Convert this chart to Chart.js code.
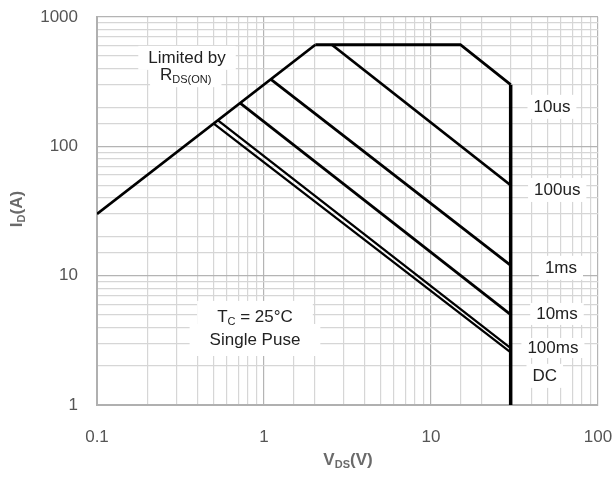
<!DOCTYPE html>
<html>
<head>
<meta charset="utf-8">
<script src="https://cdn.jsdelivr.net/npm/chart.js@4.4.0/dist/chart.umd.min.js"></script>
<style>
  html, body { margin: 0; padding: 0; background: #fff; }
  #wrap { width: 614px; height: 483px; }
</style>
</head>
<body>
<div id="wrap"><canvas id="soa"></canvas></div>
<script>
// safe operating area, V_DS (V) vs I_D (A)
var xTicks = [0.1, 1, 10, 100];
var yTicks = [1, 10, 100, 1000];

var rdsV = [0.1, 2.03];         var rdsI = [30, 610];
var us10V = [2.03, 15, 30];     var us10I = [610, 610, 300];
var dcLimV = [30, 30];          var dcLimI = [300, 1];
var us100V = [2.55, 30];        var us100I = [610, 50];
var ms1V = [1.1, 30];           var ms1I = [330, 12];
var ms10V = [0.72, 30];         var ms10I = [216, 5];
var ms100V = [0.53, 30];        var ms100I = [159, 2.75];
var dcV = [0.5, 30];            var dcI = [150, 2.55];

var curveNames = ['10us', '100us', '1ms', '10ms', '100ms', 'DC'];

function pts(xs, ys) {
	var out = [];
	for (var i in xs) out.push({x: xs[i], y: ys[i]});
	return out;
}

function line(label, xs, ys, w) {
	return {
		label: label,
		data: pts(xs, ys),
		showLine: true,
		borderColor: '#000',
		borderWidth: w || 2.8,
		pointRadius: 0,
		fill: false
	};
}

// text notes, placed at data coordinates
var notes = [
	{v: 53, i: 202, parts: [[curveNames[0]]], pad: [6, 4]},
	{v: 57, i: 46, parts: [[curveNames[1]]], pad: [6, 4]},
	{v: 60, i: 11.5, parts: [[curveNames[2]]], pad: [6, 4]},
	{v: 56.8, i: 5.06, parts: [[curveNames[3]]], pad: [6, 3]},
	{v: 53.7, i: 2.76, parts: [[curveNames[4]]], pad: [6, 2]},
	{v: 48, i: 1.68, parts: [[curveNames[5]]], pad: [6, 4]},
	{v: 0.346, i: 483, parts: [['Limited by']], pad: [10, 4]},
	{v: 0.34, i: 355, parts: [['R'], ['DS(ON)', true]], pad: [10, 4]},
	{v: 0.883, i: 4.8, parts: [['T'], ['C', true], [' = 25°C']], pad: [20, 8]},
	{v: 0.883, i: 3.18, parts: [['Single Puse']], pad: [20, 8]}
];

var FONT = '17px "Liberation Sans", Arial, sans-serif';
var SUB = '11px "Liberation Sans", Arial, sans-serif';

function partsWidth(ctx, parts) {
	var w = 0;
	parts.forEach(function(p) {
		ctx.font = p[1] ? SUB : FONT;
		w += ctx.measureText(p[0]).width;
	});
	return w;
}

function drawParts(ctx, parts, cx, cy, font, sub, color) {
	ctx.save();
	ctx.fillStyle = color;
	ctx.textBaseline = 'middle';
	ctx.textAlign = 'left';
	var w = 0;
	parts.forEach(function(p) { ctx.font = p[1] ? sub : font; w += ctx.measureText(p[0]).width; });
	var x = cx - w / 2;
	parts.forEach(function(p) {
		ctx.font = p[1] ? sub : font;
		ctx.fillText(p[0], x, p[1] ? cy + 5 : cy);
		x += ctx.measureText(p[0]).width;
	});
	ctx.restore();
}

var notesPlugin = {
	id: 'notes',
	beforeDatasetsDraw: function(chart) {
		var ctx = chart.ctx, xs = chart.scales.x, ys = chart.scales.y;
		ctx.save();
		ctx.fillStyle = '#fff';
		notes.forEach(function(n) {
			var cx = xs.getPixelForValue(n.v), cy = ys.getPixelForValue(n.i);
			var w = partsWidth(ctx, n.parts);
			ctx.fillRect(cx - w / 2 - n.pad[0], cy - 8 - n.pad[1], w + 2 * n.pad[0], 16 + 2 * n.pad[1]);
		});
		ctx.restore();
	},
	afterDatasetsDraw: function(chart) {
		var ctx = chart.ctx, xs = chart.scales.x, ys = chart.scales.y;
		notes.forEach(function(n) {
			drawParts(ctx, n.parts, xs.getPixelForValue(n.v), ys.getPixelForValue(n.i), FONT, SUB, '#222');
		});
	},
	afterDraw: function(chart) {
		var ctx = chart.ctx;
		var tf = 'bold 17px "Liberation Sans", Arial, sans-serif';
		var ts = 'bold 11px "Liberation Sans", Arial, sans-serif';
		drawParts(ctx, [['V'], ['DS', true], ['(V)']], 348, 460, tf, ts, '#6a6a6a');
		ctx.save();
		ctx.translate(17, 209);
		ctx.rotate(-Math.PI / 2);
		drawParts(ctx, [['I'], ['D', true], ['(A)']], 0, 0, tf, ts, '#6a6a6a');
		ctx.restore();
	}
};

function isDecade(v) {
	var l = Math.log10(v);
	return Math.abs(l - Math.round(l)) < 1e-6;
}

function gridColor(c) {
	if (!c.tick) return '#d6d6d6';
	return isDecade(c.tick.value) ? '#b4b4b4' : '#d6d6d6';
}

function decadeLabel(list) {
	return function(v) {
		var r = +Number(v).toPrecision(3);
		return isDecade(v) && list.indexOf(r) >= 0 ? String(r) : '';
	};
}

var ctx = document.getElementById('soa');

var soaChart = new Chart(ctx, {
	type: 'scatter',
	data: {
		datasets: [
			line('RDS(ON) limit', rdsV, rdsI),
			line('10us', us10V, us10I),
			line('limit', dcLimV, dcLimI, 3.5),
			line('100us', us100V, us100I),
			line('1ms', ms1V, ms1I),
			line('10ms', ms10V, ms10I),
			line('100ms', ms100V, ms100I, 2.3),
			line('DC', dcV, dcI, 2.3)
		]
	},
	options: {
		responsive: true,
		maintainAspectRatio: false,
		animation: false,
		layout: {padding: {left: 0, top: 17, right: 16, bottom: 0}},
		plugins: {legend: {display: false}, tooltip: {enabled: false}},
		scales: {
			x: {
				type: 'logarithmic',
				min: xTicks[0],
				max: xTicks[xTicks.length - 1],
				afterFit: function(s) { s.height = 78; s.paddingLeft = 0; s.paddingRight = 0; },
				grid: {color: gridColor, lineWidth: 1.2, drawTicks: false},
				border: {color: '#b0b0b0', width: 2},
				ticks: {
					autoSkip: false,
					maxRotation: 0,
					padding: 22,
					color: '#555',
					font: {family: '"Liberation Sans", Arial, sans-serif', size: 17},
					callback: decadeLabel(xTicks)
				}
			},
			y: {
				type: 'logarithmic',
				min: yTicks[0],
				max: yTicks[yTicks.length - 1],
				afterFit: function(s) { s.width = 97; s.paddingTop = 0; s.paddingBottom = 0; },
				grid: {color: gridColor, lineWidth: 1.2, drawTicks: false},
				border: {color: '#b0b0b0', width: 2},
				ticks: {
					autoSkip: false,
					padding: 19,
					color: '#555',
					font: {family: '"Liberation Sans", Arial, sans-serif', size: 17},
					callback: decadeLabel(yTicks)
				}
			}
		}
	},
	plugins: [notesPlugin]
});
</script>
</body>
</html>
